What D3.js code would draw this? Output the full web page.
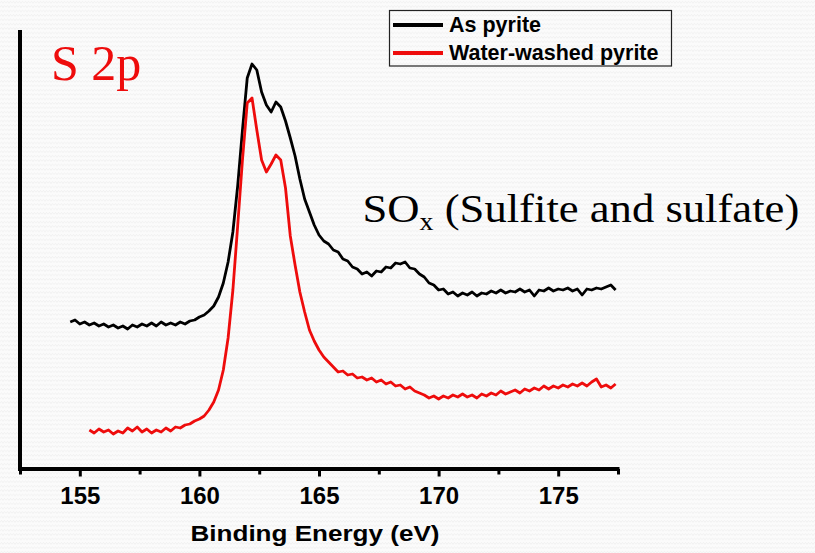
<!DOCTYPE html>
<html>
<head>
<meta charset="utf-8">
<script src="https://cdn.jsdelivr.net/npm/d3@7"></script>
<style>
  html, body { margin: 0; padding: 0; background: #fbfbfb; }
  svg { display: block; }
</style>
</head>
<body>
<svg id="chart" width="815" height="553"></svg>
<script>
// Binding-energy grid (eV) shared by both S 2p spectra
const energy = [
  154.6, 154.8, 155.0, 155.2, 155.4, 155.6, 155.8, 156.0, 156.2, 156.4,
  156.6, 156.8, 157.0, 157.2, 157.4, 157.6, 157.8, 158.0, 158.2, 158.4,
  158.6, 158.8, 159.0, 159.2, 159.4, 159.6, 159.8, 160.0, 160.2, 160.4,
  160.6, 160.8, 161.0, 161.2, 161.4, 161.6, 161.8, 162.0, 162.2, 162.4,
  162.6, 162.8, 163.0, 163.2, 163.4, 163.6, 163.8, 164.0, 164.2, 164.4,
  164.6, 164.8, 165.0, 165.2, 165.4, 165.6, 165.8, 166.0, 166.2, 166.4,
  166.6, 166.8, 167.0, 167.2, 167.4, 167.6, 167.8, 168.0, 168.2, 168.4,
  168.6, 168.8, 169.0, 169.2, 169.4, 169.6, 169.8, 170.0, 170.2, 170.4,
  170.6, 170.8, 171.0, 171.2, 171.4, 171.6, 171.8, 172.0, 172.2, 172.4,
  172.6, 172.8, 173.0, 173.2, 173.4, 173.6, 173.8, 174.0, 174.2, 174.4,
  174.6, 174.8, 175.0, 175.2, 175.4, 175.6, 175.8, 176.0, 176.2, 176.4,
  176.6, 176.8, 177.0, 177.2, 177.4
];

// Intensity (a.u.), as-received pyrite
const asPyrite = [
  147, 149, 145, 147, 144, 146, 143, 145, 142, 144,
  141, 143, 140, 144, 142, 145, 143, 146, 143, 147,
  144, 146, 144, 147, 145, 148, 149, 152, 154, 158,
  163, 172, 186, 207, 237, 283, 339, 391, 405, 399,
  377, 364, 357, 367, 362, 348, 331, 313, 290, 270,
  257, 244, 234, 228, 225, 219, 217, 210, 208, 202,
  200, 195, 197, 193, 198, 197, 202, 201, 206, 205,
  207, 201, 200, 195, 192, 186, 184, 179, 180, 175,
  177, 173, 176, 174, 177, 173, 176, 175, 178, 176,
  179, 176, 178, 177, 180, 177, 179, 173, 179, 178,
  181, 178, 180, 179, 181, 178, 180, 174, 180, 179,
  181, 180, 182, 184, 179
];

// Intensity (a.u.), water-washed pyrite (scan starts at 155.4 eV)
const washedPyrite = [
  null, null, null, null, 39, 36, 40, 37, 39, 35,
  38, 36, 41, 38, 42, 37, 40, 36, 39, 37,
  41, 38, 42, 41, 44, 45, 48, 50, 53, 59,
  67, 79, 99, 131, 179, 243, 309, 366, 371, 339,
  309, 297, 305, 314, 309, 281, 233, 204, 177, 157,
  139, 128, 119, 112, 107, 102, 97, 98, 94, 95,
  91, 92, 89, 91, 87, 89, 85, 87, 83, 84,
  80, 82, 78, 76, 74, 71, 73, 70, 73, 71,
  74, 72, 75, 72, 74, 71, 75, 73, 76, 74,
  78, 75, 77, 79, 76, 80, 78, 81, 79, 83,
  80, 83, 81, 84, 82, 85, 83, 86, 83, 87,
  90, 82, 84, 81, 85
];

const seriesNames = ["As pyrite", "Water-washed pyrite"];
const seriesColors = ["#000000", "#ee0c0c"];
const majorTicks = [155, 160, 165, 170, 175];
const minorTicks = [152.5, 157.5, 162.5, 167.5, 172.5, 177.5];
const xDomain = [152.5, 177.5];
const yDomain = [0, 440];

const svg = d3.select("#chart");

// faint slide texture
const defs = svg.append("defs");
const pat = defs.append("pattern")
  .attr("id", "zig").attr("patternUnits", "userSpaceOnUse")
  .attr("width", 6).attr("height", 4.4);
pat.append("path")
  .attr("d", "M0,3 L1.5,1.2 L3,3 L4.5,1.2 L6,3")
  .attr("fill", "none").attr("stroke", "#efefef").attr("stroke-width", 0.8);
svg.append("rect").attr("width", 815).attr("height", 553).attr("fill", "#fbfbfb");
svg.append("rect").attr("width", 815).attr("height", 553).attr("fill", "url(#zig)");

const plotLeft = 20, plotRight = 618, plotTop = 29, plotBottom = 469;
const x = d3.scaleLinear().domain(xDomain).range([plotLeft, plotRight]);
const y = d3.scaleLinear().domain(yDomain).range([plotBottom, plotTop]);

// spectra
const line = d3.line()
  .defined(d => d[1] != null)
  .x(d => x(d[0]))
  .y(d => y(d[1]));

[asPyrite, washedPyrite].forEach((vals, i) => {
  svg.append("path")
    .datum(energy.map((e, k) => [e, vals[k]]))
    .attr("fill", "none")
    .attr("stroke", seriesColors[i])
    .attr("stroke-width", 2.8)
    .attr("stroke-linejoin", "round")
    .attr("d", line);
});

// axes
const minorAxis = d3.axisBottom(x).tickValues(minorTicks).tickSize(5.5).tickFormat("");
const majorAxis = d3.axisBottom(x).tickValues(majorTicks).tickSize(7.5).tickFormat(d3.format("d"));

const gMinor = svg.append("g").attr("transform", `translate(0,${plotBottom})`).call(minorAxis);
gMinor.select(".domain").remove();
gMinor.selectAll(".tick line").attr("stroke", "#000").attr("stroke-width", 3);

const gMajor = svg.append("g").attr("transform", `translate(0,${plotBottom})`).call(majorAxis);
gMajor.select(".domain").remove();
gMajor.selectAll(".tick line").attr("stroke", "#000").attr("stroke-width", 3);
gMajor.selectAll(".tick text")
  .attr("y", 35).attr("dy", 0)
  .attr("font-family", "Liberation Sans, Arial, sans-serif")
  .attr("font-weight", "bold")
  .attr("font-size", 24)
  .attr("fill", "#000");

svg.append("line")
  .attr("x1", plotLeft).attr("x2", plotRight + 1.5)
  .attr("y1", plotBottom).attr("y2", plotBottom)
  .attr("stroke", "#000").attr("stroke-width", 4);
svg.append("line")
  .attr("x1", plotLeft).attr("x2", plotLeft)
  .attr("y1", plotTop + 1).attr("y2", plotBottom + 2)
  .attr("stroke", "#000").attr("stroke-width", 4);

svg.append("text")
  .attr("x", 190.5).attr("y", 540.5)
  .attr("font-family", "Liberation Sans, Arial, sans-serif")
  .attr("font-weight", "bold")
  .attr("font-size", 22)
  .attr("textLength", 249)
  .attr("lengthAdjust", "spacingAndGlyphs")
  .text("Binding Energy (eV)");

// legend
const leg = svg.append("g");
leg.append("rect")
  .attr("x", 389.5).attr("y", 10.5).attr("width", 282).attr("height", 55.5)
  .attr("fill", "none").attr("stroke", "#222").attr("stroke-width", 1.2);
seriesNames.forEach((name, i) => {
  const ly = 25 + i * 28;
  leg.append("line")
    .attr("x1", 393).attr("x2", 443).attr("y1", ly).attr("y2", ly)
    .attr("stroke", seriesColors[i]).attr("stroke-width", 4);
  leg.append("text")
    .attr("x", 449).attr("y", ly + 7)
    .attr("font-family", "Liberation Sans, Arial, sans-serif")
    .attr("font-weight", "bold")
    .attr("font-size", 21.5)
    .attr("fill", "#000")
    .text(name);
});

// annotations
svg.append("text")
  .attr("x", 51).attr("y", 80)
  .attr("font-family", "Liberation Serif, Times New Roman, serif")
  .attr("font-size", 50)
  .attr("fill", "#ee0c0c")
  .text("S 2p");

const sox = svg.append("text")
  .attr("font-family", "Liberation Serif, Times New Roman, serif")
  .attr("font-size", 40)
  .attr("fill", "#000");
sox.append("tspan").text("SO");
sox.append("tspan").attr("dy", 8).attr("font-size", 25).text("x");
sox.append("tspan").attr("dy", -8).text(" (Sulfite and sulfate)");
const soxWidth = sox.node().getBBox().width;
sox.attr("transform", `translate(362.5,221.5) scale(${437 / soxWidth},1)`);
</script>
</body>
</html>
